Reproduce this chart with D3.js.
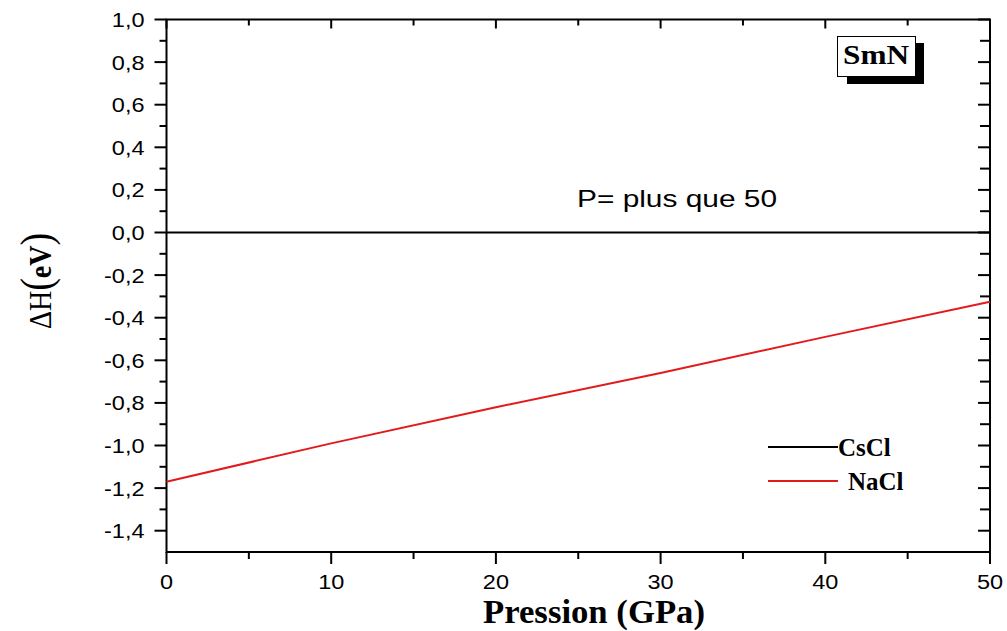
<!DOCTYPE html>
<html><head><meta charset="utf-8">
<script src="https://cdn.jsdelivr.net/npm/d3@7"></script>
<style>body{margin:0;background:#fff}svg{display:block}</style>
</head><body>
<script>
const pressure = [0, 10, 20, 30, 40, 50];
const cscl = [0, 0, 0, 0, 0, 0];
const nacl = [-1.17, -0.99, -0.82, -0.66, -0.49, -0.325];
const xTicks = [0, 10, 20, 30, 40, 50];
const yTicks = [-1.4, -1.2, -1.0, -0.8, -0.6, -0.4, -0.2, 0.0, 0.2, 0.4, 0.6, 0.8, 1.0];
const seriesNames = ["CsCl", "NaCl"];
const seriesColors = ["#000000", "#e31a1c"];

const W = 1007, H = 631;
const m = {l: 166.5, t: 19.5, r: 17, b: 79};
const svg = d3.select("body").append("svg").attr("width", W).attr("height", H);
const x = d3.scaleLinear().domain([0, 50]).range([m.l, W - m.r]);
const y = d3.scaleLinear().domain([-1.5, 1.0]).range([H - m.b, m.t]);
const loc = d3.formatLocale({decimal: ",", thousands: ".", grouping: [3], currency: ["", ""], minus: "-"});
const fy = loc.format(".1f");

const xMinor = d3.range(0, 50.01, 5);
const yMinor = d3.range(-1.5, 1.001, 0.1).map(v => +v.toFixed(2));

const g = svg.append("g").attr("stroke", "#000").attr("stroke-width", 2);
xMinor.forEach(v => {
  const major = Math.abs(v % 10) < 1e-6;
  g.append("line").attr("x1", x(v)).attr("x2", x(v)).attr("y1", y(-1.5)).attr("y2", y(-1.5) + (major ? 12 : 7));
  g.append("line").attr("x1", x(v)).attr("x2", x(v)).attr("y1", y(1.0)).attr("y2", y(1.0) + (major ? 9 : 6));
});
yMinor.forEach(v => {
  const major = Math.abs(Math.round(v * 10) % 2) === 0;
  if (v <= -1.5 + 1e-6) return;
  g.append("line").attr("x1", x(0) - (major ? 12 : 7)).attr("x2", x(0)).attr("y1", y(v)).attr("y2", y(v));
  g.append("line").attr("x1", x(50) - (major ? 12 : 10)).attr("x2", x(50)).attr("y1", y(v)).attr("y2", y(v));
});
svg.append("rect").attr("x", x(0)).attr("y", y(1.0)).attr("width", x(50) - x(0)).attr("height", y(-1.5) - y(1.0))
  .attr("fill", "none").attr("stroke", "#000").attr("stroke-width", 2);

svg.append("g").selectAll("text").data(xTicks).join("text")
  .attr("transform", d => `translate(${x(d)},${y(-1.5) + 37}) scale(1.12,1)`).attr("text-anchor", "middle")
  .attr("font-family", "Liberation Sans, Arial, sans-serif").attr("font-size", 21).text(d => d);
svg.append("g").selectAll("text").data(yTicks).join("text")
  .attr("transform", d => `translate(${x(0) - 22},${y(d) + 7.5}) scale(1.12,1)`).attr("text-anchor", "end")
  .attr("font-family", "Liberation Sans, Arial, sans-serif").attr("font-size", 21).text(d => fy(d));

const line = d3.line().x((d, i) => x(pressure[i])).y(d => y(d));
[cscl, nacl].forEach((s, i) => {
  svg.append("path").datum(s).attr("d", line).attr("fill", "none")
    .attr("stroke", seriesColors[i]).attr("stroke-width", 2);
});

svg.append("text").attr("x", 594).attr("y", 623).attr("text-anchor", "middle")
  .attr("font-family", "Liberation Serif, Times New Roman, serif").attr("font-weight", "bold")
  .attr("font-size", 33).attr("textLength", 222).attr("lengthAdjust", "spacingAndGlyphs").text("Pression (GPa)");
const yt = svg.append("text").attr("transform", "translate(51,281) rotate(-90) scale(1,1.15)").attr("text-anchor", "middle")
  .attr("font-family", "Liberation Serif, Times New Roman, serif").attr("font-size", 28);
yt.append("tspan").text("ΔH");
yt.append("tspan").attr("font-size", 38).text("(");
yt.append("tspan").attr("font-weight", "bold").text("eV");
yt.append("tspan").attr("font-size", 38).text(")");

svg.append("text").attr("x", 577).attr("y", 207).attr("font-family", "Liberation Sans, Arial, sans-serif")
  .attr("font-size", 24).attr("textLength", 200).attr("lengthAdjust", "spacingAndGlyphs").text("P= plus que 50");

svg.append("rect").attr("x", 847).attr("y", 43).attr("width", 77).attr("height", 41).attr("fill", "#000");
svg.append("rect").attr("x", 837.5).attr("y", 36.5).attr("width", 78).attr("height", 40).attr("fill", "#fff").attr("stroke", "#000").attr("stroke-width", 1);
svg.append("text").attr("x", 876).attr("y", 64).attr("text-anchor", "middle")
  .attr("font-family", "Liberation Serif, Times New Roman, serif").attr("font-weight", "bold").attr("font-size", 27)
  .attr("textLength", 66).attr("lengthAdjust", "spacingAndGlyphs").text("SmN");

const legY = [447, 481];
const legTx = [838, 848];
const legBase = [456, 490];
seriesNames.forEach((n, i) => {
  svg.append("line").attr("x1", 768).attr("x2", 838).attr("y1", legY[i]).attr("y2", legY[i])
    .attr("stroke", seriesColors[i]).attr("stroke-width", 2);
  svg.append("text").attr("x", legTx[i]).attr("y", legBase[i]).attr("font-family", "Liberation Serif, Times New Roman, serif")
    .attr("font-weight", "bold").attr("font-size", 25).text(n);
});
</script>
</body></html>
